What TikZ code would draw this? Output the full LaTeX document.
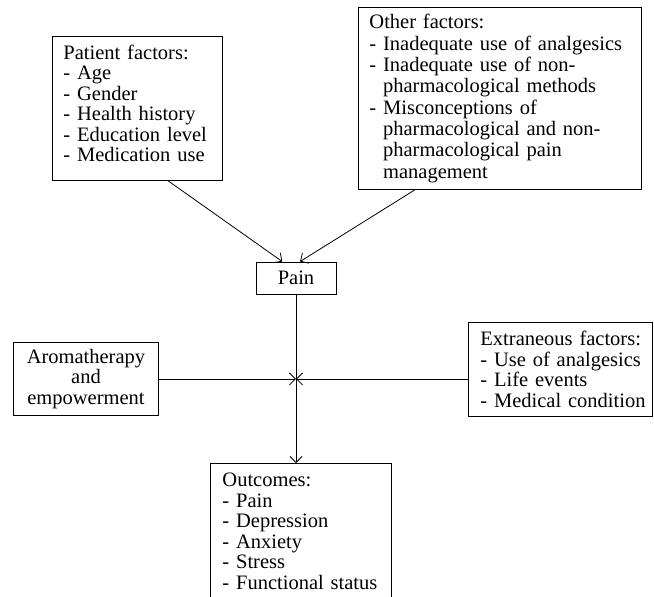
\documentclass[tikz,border=0pt]{standalone}
\usepackage{fontspec}
\setmainfont{Liberation Serif}
\usepackage{tikz}
\usetikzlibrary{calc,arrows.meta,positioning}

\tikzset{
	fbox/.style={draw,line width=0.9pt,anchor=north west,inner xsep=11pt,inner ysep=0pt,align=left,
		font=\fontsize{20.5}{20.5}\selectfont},
	farrow/.style={line width=0.8pt,-{Straight Barb[length=6pt,width=12pt]}}
}
\newcommand{\ind}{\phantom{- }}

\begin{document}
\begin{tikzpicture}[x=1pt,y=-1pt]
		\useasboundingbox (0,0) rectangle (654,597);
		\node[fbox,text width=148pt,minimum height=144pt] (patient) at (52,36)
		{Patient factors:\\- Age\\- Gender\\- Health history\\- Education level\\- Medication use\\[-10pt]\mbox{}};
		\node[fbox,text width=261pt,minimum height=182pt,font=\fontsize{20.5}{21.3}\selectfont] (other) at (358,7)
		{Other factors:\\- Inadequate use of analgesics\\- Inadequate use of non-\\\ind pharmacological methods\\- Misconceptions of\\\ind pharmacological and non-\\\ind pharmacological pain\\\ind management};
		\node[fbox,anchor=center,align=center,inner xsep=0pt,minimum width=80pt,minimum height=32pt] (pain) at (296,278) {Pain};
		\node[fbox,align=center,inner xsep=0pt,text width=145pt,minimum height=73pt] (aroma) at (13,342)
		{Aromatherapy\\and\\empowerment};
		\node[fbox,text width=160pt,inner xsep=12pt,minimum height=94pt] (extra) at (468,322)
		{\mbox{Extraneous factors:}\\\mbox{- Use of analgesics}\\- Life events\\\mbox{- Medical condition}};
		\node[fbox,text width=157pt,inner xsep=12pt,minimum height=136pt] (outcomes) at (210,463)
		{Outcomes:\\- Pain\\- Depression\\- Anxiety\\- Stress\\- Functional status};
		% arrows into pain
		\draw[farrow] ($(patient.south west)!0.68!(patient.south east)$) -- ($(pain.north west)!0.33!(pain.north east)$);
		\draw[farrow] ($(other.south west)!0.2!(other.south east)$) -- ($(pain.north west)!0.55!(pain.north east)$);
		% pain to outcomes
		\coordinate (hub) at (pain.south |- aroma.east);
		\draw[farrow] (pain.south) -- (pain.south |- outcomes.north);
		\draw[farrow] (aroma.east) -- (hub);
		\draw[farrow] (aroma.east -| extra.west) -- (hub);
\end{tikzpicture}
\end{document}
